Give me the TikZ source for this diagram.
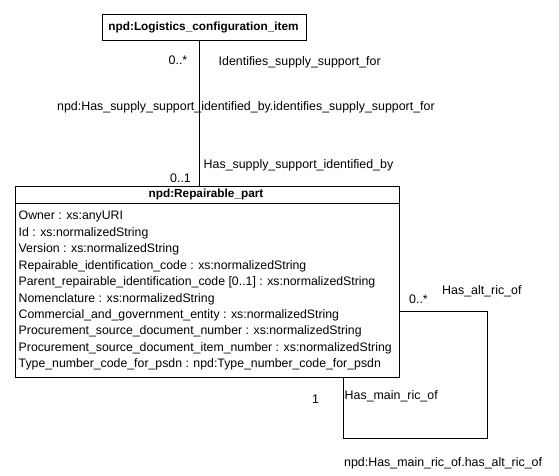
\documentclass[tikz,border=0pt]{standalone}
\usepackage{fontspec}
\setmainfont{Liberation Sans}
\begin{document}
\begin{tikzpicture}[x=1pt,y=-1pt,
  lbl/.style={inner sep=0pt,anchor=base west,font=\fontsize{12.4}{14}\selectfont},
  titletext/.style={inner sep=0pt,font=\fontsize{11.8}{13}\bfseries\selectfont},
  classbox/.style={draw,line width=0.9pt,inner sep=0pt},
  conn/.style={line width=0.9pt}]
\useasboundingbox (0,0) rectangle (559,476);
\fill[white] (0,0) rectangle (559,476);
% top class
\node[classbox,minimum width=204pt,minimum height=26pt] (lci) at (204,27.5) {};
\node[titletext] (lcit) at (203.5,27.5) {npd:Logistics\_configuration\_item};
% repairable part
\node[classbox,minimum width=384pt,minimum height=191pt] (rp) at (207,281.5) {};
\draw[line width=0.9pt] (rp.west |- 0,203) -- (rp.east |- 0,203);
\node[titletext] (rpt) at (206,194.5) {npd:Repairable\_part};
\node[inner sep=0pt,anchor=north west,align=left,font=\fontsize{12.3}{16.45}\selectfont] (attrs) at (18.5,211) {%
Owner : xs:anyURI\\
Id : xs:normalizedString\\
Version : xs:normalizedString\\
Repairable\_identification\_code : xs:normalizedString\\
Parent\_repairable\_identification\_code [0..1] : xs:normalizedString\\
Nomenclature : xs:normalizedString\\
Commercial\_and\_government\_entity : xs:normalizedString\\
Procurement\_source\_document\_number : xs:normalizedString\\
Procurement\_source\_document\_item\_number : xs:normalizedString\\
Type\_number\_code\_for\_psdn : npd:Type\_number\_code\_for\_psdn};
% association 1
\coordinate (lx) at (199,0);
\draw[conn] (lx |- lci.south) -- (lx |- rp.north);
\node[lbl] (m1) at (168.5,64.5) {0..*};
\node[lbl] (r1) at (218.5,65.5) {Identifies\_supply\_support\_for};
\node[lbl] (a1) at (57,110.5) {npd:Has\_supply\_support\_identified\_by.identifies\_supply\_support\_for};
\node[lbl] (r2) at (203.5,168.5) {Has\_supply\_support\_identified\_by};
\node[lbl] (m2) at (170,182) {0..1};
% self association
\coordinate (c1) at (487,311);
\coordinate (c2) at (487,438);
\coordinate (c3) at (343,438);
\draw[conn] (rp.east |- c1) -- (c1) -- (c2) -- (c3) -- (c3 |- rp.south);
\node[lbl] (m3) at (409,303) {0..*};
\node[lbl] (r3) at (442,294) {Has\_alt\_ric\_of};
\node[lbl] (m4) at (312,403) {1};
\node[lbl] (r4) at (344.5,399) {Has\_main\_ric\_of};
\node[lbl] (a2) at (344,466) {npd:Has\_main\_ric\_of.has\_alt\_ric\_of};
\end{tikzpicture}
\end{document}
